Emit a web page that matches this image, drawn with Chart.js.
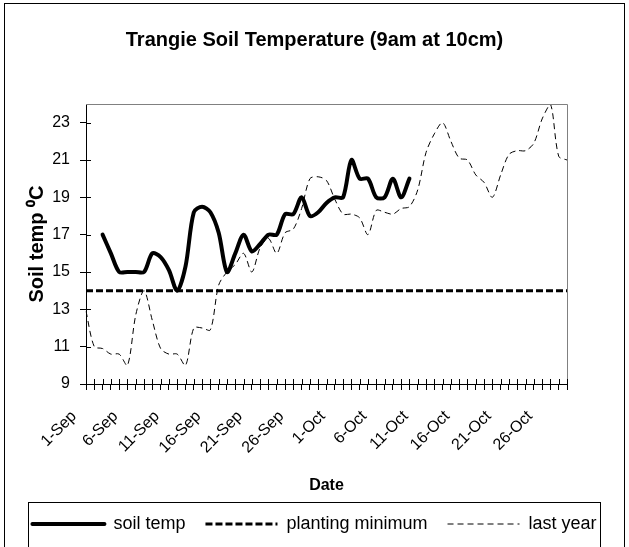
<!DOCTYPE html>
<html>
<head>
<meta charset="utf-8">
<script src="https://cdn.jsdelivr.net/npm/chart.js@4"></script>
<style>
  html, body { margin: 0; padding: 0; background: #fff; }
  #wrap { width: 629px; height: 547px; }
</style>
</head>
<body>
<div id="wrap"><canvas id="soilChart" width="629" height="547"></canvas></div>
<script>
// Dates on the axis (one per day)
const dates = [
    '1-Sep', '2-Sep', '3-Sep', '4-Sep', '5-Sep', '6-Sep', '7-Sep', '8-Sep', '9-Sep', '10-Sep',
    '11-Sep', '12-Sep', '13-Sep', '14-Sep', '15-Sep', '16-Sep', '17-Sep', '18-Sep', '19-Sep', '20-Sep',
    '21-Sep', '22-Sep', '23-Sep', '24-Sep', '25-Sep', '26-Sep', '27-Sep', '28-Sep', '29-Sep', '30-Sep',
    '1-Oct', '2-Oct', '3-Oct', '4-Oct', '5-Oct', '6-Oct', '7-Oct', '8-Oct', '9-Oct', '10-Oct',
    '11-Oct', '12-Oct', '13-Oct', '14-Oct', '15-Oct', '16-Oct', '17-Oct', '18-Oct', '19-Oct', '20-Oct',
    '21-Oct', '22-Oct', '23-Oct', '24-Oct', '25-Oct', '26-Oct', '27-Oct', '28-Oct', '29-Oct'
];

// Dates that get a label on the x axis
const labeledDates = ['1-Sep', '6-Sep', '11-Sep', '16-Sep', '21-Sep', '26-Sep',
    '1-Oct', '6-Oct', '11-Oct', '16-Oct', '21-Oct', '26-Oct'];

const yTicks = [9, 11, 13, 15, 17, 19, 21, 23];

// Soil temp this year (9am, 10cm)
const soilTemp = [
    null, null, 17, 16, 15, 15, 15, 15, 16, 15.8,
    15.1, 14, 15.3, 18.2, 18.5, 18.2, 17.1, 15, 16, 17,
    16.1, 16.5, 17, 17, 18.1, 18.1, 19, 18, 18.2, 18.7,
    19, 19, 21, 20, 20, 19, 19, 20, 19, 20,
    null, null, null, null, null, null, null, null, null, null,
    null, null, null, null, null, null, null, null, null
];

// Same period last year
const lastYear = [
    12.9, 11, 10.9, 10.6, 10.6, 10, 12.7, 14, 12.4, 10.9,
    10.6, 10.6, 10, 12, 12, 11.9, 14.3, 15, 15.4, 16,
    15, 16.3, 16.8, 16, 17.1, 17.3, 18.4, 20, 20.1, 19.9,
    18.9, 18.1, 18.1, 17.9, 17, 18.3, 18.2, 18.1, 18.4, 18.5,
    19.4, 21.4, 22.4, 23, 22, 21.1, 21, 20.2, 19.8, 19,
    20.2, 21.3, 21.5, 21.5, 21.9, 23.2, 24, 21.2, 21
];

const plantingMinimum = 14;

const FONT = "'Liberation Sans', Arial, sans-serif";
Chart.defaults.font.family = FONT;
Chart.defaults.color = '#000';

// Frame around the chart, plot border, ticks that cross the axes, legend box
const excelFrames = {
    id: 'excelFrames',
    beforeDraw(chart) {
        const ctx = chart.ctx;
        ctx.save();
        ctx.fillStyle = '#fff';
        ctx.fillRect(0, 0, chart.width, chart.height);
        ctx.restore();
    },
    afterDraw(chart) {
        const { ctx, chartArea: a, scales: { x, y } } = chart;
        ctx.save();
        ctx.lineWidth = 1;

        // grey top and right edges of the plot area
        ctx.strokeStyle = '#808080';
        ctx.beginPath();
        ctx.moveTo(a.left, Math.round(a.top) + 0.5);
        ctx.lineTo(Math.round(a.right) + 0.5, Math.round(a.top) + 0.5);
        ctx.lineTo(Math.round(a.right) + 0.5, a.bottom);
        ctx.stroke();

        // inner half of the cross ticks
        ctx.strokeStyle = '#000';
        ctx.beginPath();
        x.ticks.forEach((t, i) => {
            const px = Math.round(x.getPixelForTick(i)) + 0.5;
            ctx.moveTo(px, a.bottom);
            ctx.lineTo(px, a.bottom - 5);
        });
        y.ticks.forEach((t, i) => {
            const py = Math.round(y.getPixelForTick(i)) + 0.5;
            ctx.moveTo(a.left, py);
            ctx.lineTo(a.left + 5, py);
        });
        ctx.stroke();

        // outer chart frame
        ctx.strokeStyle = '#000';
        ctx.strokeRect(4.5, 3.5, chart.width - 9, chart.height + 20);

        // legend frame
        const boxes = chart.legend.legendHitBoxes;
        if (boxes.length) {
            const first = boxes[0];
            const last = boxes[boxes.length - 1];
            const left = Math.round(first.left - 4) + 0.5;
            const right = Math.round(last.left + last.width + 3) + 0.5;
            const top = Math.round(chart.legend.top + 7) + 0.5;
            ctx.strokeRect(left, top, right - left, chart.height + 20 - top);
        }
        ctx.restore();
    }
};

const ctx = document.getElementById('soilChart').getContext('2d');
const soilChart = new Chart(ctx, {
    type: 'line',
    data: {
        labels: dates,
        datasets: [{
            label: 'soil temp',
            data: soilTemp,
            borderColor: '#000',
            borderWidth: 4,
            borderCapStyle: 'round',
            borderJoinStyle: 'round',
            tension: 0.3,
            pointRadius: 0,
            spanGaps: false
        }, {
            label: 'planting minimum',
            data: [{ x: dates[0], y: plantingMinimum }, { x: dates[dates.length - 1], y: plantingMinimum }],
            borderColor: '#000',
            borderWidth: 3,
            borderDash: [7, 3],
            pointRadius: 0
        }, {
            label: 'last year',
            data: lastYear,
            borderColor: '#000',
            borderWidth: 1,
            borderDash: [6, 4],
            tension: 0.3,
            pointRadius: 0
        }]
    },
    options: {
        responsive: false,
        animation: false,
        events: [],
        layout: {
            padding: { left: 6, right: 6, top: 0, bottom: 4 }
        },
        plugins: {
            title: {
                display: true,
                text: 'Trangie Soil Temperature (9am at 10cm)',
                font: { size: 20, weight: 'bold' },
                color: '#000',
                padding: { top: 28, bottom: 52 }
            },
            legend: {
                position: 'bottom',
                labels: {
                    usePointStyle: true,
                    pointStyle: 'line',
                    pointStyleWidth: 72,
                    boxHeight: 18,
                    font: { size: 18 },
                    color: '#000',
                    padding: 20,
                    generateLabels(chart) {
                        const items = Chart.defaults.plugins.legend.labels.generateLabels(chart);
                        items.forEach(item => {
                            const ds = chart.data.datasets[item.datasetIndex];
                            item.lineDash = ds.borderDash || [];
                            item.lineWidth = ds.borderWidth;
                            item.strokeStyle = ds.borderColor;
                            item.lineCap = ds.borderCapStyle || 'butt';
                        });
                        return items;
                    }
                }
            },
            tooltip: { enabled: false }
        },
        scales: {
            x: {
                type: 'category',
                offset: false,
                afterFit(scale) { scale.height = 111; },
                grid: {
                    display: true,
                    drawOnChartArea: false,
                    drawTicks: true,
                    tickLength: 6,
                    color: '#000'
                },
                border: { display: true, color: '#000', width: 1 },
                ticks: {
                    autoSkip: false,
                    maxRotation: 45,
                    minRotation: 45,
                    padding: 17,
                    labelOffset: -12,
                    font: { size: 16 },
                    color: '#000',
                    callback(value, index) {
                        const d = dates[index];
                        return labeledDates.includes(d) ? d : '';
                    }
                },
                title: {
                    display: true,
                    text: 'Date',
                    font: { size: 16, weight: 'bold' },
                    color: '#000',
                    padding: { top: 0, bottom: 0 }
                }
            },
            y: {
                min: 9,
                max: 24,
                afterFit(scale) { scale.width = 80; },
                afterBuildTicks(scale) {
                    scale.ticks = yTicks.map(v => ({ value: v }));
                },
                grid: {
                    display: true,
                    drawOnChartArea: false,
                    drawTicks: true,
                    tickLength: 6,
                    color: '#000'
                },
                border: { display: true, color: '#000', width: 1 },
                ticks: {
                    padding: 10,
                    font: { size: 16 },
                    color: '#000'
                },
                title: {
                    display: true,
                    text: 'Soil temp \u2070C',
                    font: { size: 20, weight: 'bold' },
                    color: '#000',
                    padding: { top: 19, bottom: 0 }
                }
            },
            // empty right-hand margin so the plot ends where the original does
            yRight: {
                type: 'linear',
                position: 'right',
                afterFit(scale) { scale.width = 56; },
                grid: { display: false },
                border: { display: false },
                ticks: { display: false }
            }
        }
    },
    plugins: [excelFrames]
});
</script>
</body>
</html>
